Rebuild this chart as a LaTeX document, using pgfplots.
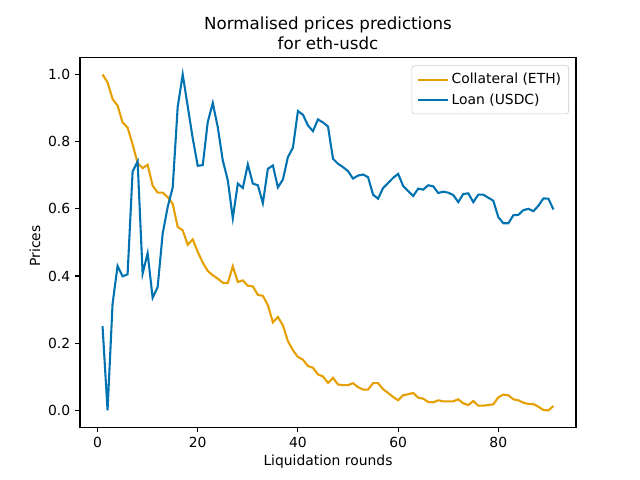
\documentclass[border=0pt]{standalone}
\usepackage{pgfplots}
\pgfplotsset{compat=1.18}
\usepackage{fontspec}
\setmainfont{DejaVu Sans}
\definecolor{mplorange}{RGB}{230,159,0}
\definecolor{mplblue}{RGB}{0,114,178}
\begin{document}
\begin{tikzpicture}
\path[use as bounding box] (0,0) rectangle (460.8pt,345.6pt);
\begin{axis}[
  at={(57.6pt,38.016pt)}, anchor=south west,
  scale only axis, width=357.12pt, height=266.112pt,
  xmin=-3.5, xmax=95.5, ymin=-0.05, ymax=1.05,
  xtick={0,20,40,60,80},
  ytick={0,0.2,0.4,0.6,0.8,1.0},
  yticklabel style={/pgf/number format/.cd, fixed, fixed zerofill, precision=1},
  /pgf/number format/assume math mode=true,
  tick pos=left, tick align=outside,
  major tick length=3.5pt,
  every tick/.style={black, line width=0.8pt},
  axis line style={line width=0.8pt},
  tick label style={font=\fontsize{10}{12}\selectfont},
  xlabel={Liquidation rounds},
  ylabel={Prices},
  label style={font=\fontsize{10}{12}\selectfont},
  xlabel style={at={(axis description cs:0.5,0)}, anchor=base, yshift=-27.9pt},
  ylabel style={at={(axis description cs:-0.0907,0.49)}, anchor=center},
  title={Normalised prices predictions\\for eth-usdc},
  title style={at={(axis description cs:0.5,1)}, anchor=south, align=center, inner sep=0pt, yshift=-0.5pt, font=\fontsize{12}{14.4}\selectfont},
  legend style={at={(0.986,0.979)}, anchor=north east, draw=black!20, rounded corners=2pt,
    fill=white, fill opacity=0.8, text opacity=1, font=\fontsize{10}{12}\selectfont,
    inner xsep=3.5pt, inner ysep=3.5pt, row sep=1.5pt,
    /tikz/every even column/.append style={column sep=7pt}},
  legend cell align=left,
  legend image code/.code={\draw[#1] (0pt,0pt) -- (21.6pt,0pt);},
]
\addplot[mplorange, line width=1.5pt] coordinates {
(1,1.0) (2,0.976) (3,0.927) (4,0.907) (5,0.857) (6,0.842) (7,0.792) (8,0.736) (9,0.721) (10,0.731)
(11,0.669) (12,0.648) (13,0.648) (14,0.635) (15,0.615) (16,0.546) (17,0.536) (18,0.493) (19,0.509) (20,0.472)
(21,0.440) (22,0.415) (23,0.402) (24,0.392) (25,0.380) (26,0.379) (27,0.429) (28,0.382) (29,0.387) (30,0.371)
(31,0.369) (32,0.344) (33,0.341) (34,0.313) (35,0.262) (36,0.278) (37,0.253) (38,0.206) (39,0.179) (40,0.159)
(41,0.151) (42,0.132) (43,0.127) (44,0.107) (45,0.101) (46,0.082) (47,0.097) (48,0.077) (49,0.075) (50,0.075)
(51,0.081) (52,0.069) (53,0.062) (54,0.062) (55,0.081) (56,0.081) (57,0.063) (58,0.052) (59,0.040) (60,0.030)
(61,0.045) (62,0.048) (63,0.052) (64,0.038) (65,0.035) (66,0.025) (67,0.024) (68,0.030) (69,0.027) (70,0.027)
(71,0.027) (72,0.033) (73,0.021) (74,0.016) (75,0.028) (76,0.014) (77,0.014) (78,0.016) (79,0.018) (80,0.039)
(81,0.047) (82,0.045) (83,0.033) (84,0.030) (85,0.023) (86,0.019) (87,0.019) (88,0.011) (89,0.001) (90,0.0)
(91,0.013)
};
\addlegendentry{Collateral (ETH)}
\addplot[mplblue, line width=1.5pt] coordinates {
(1,0.251) (2,0.0) (3,0.317) (4,0.430) (5,0.399) (6,0.405) (7,0.711) (8,0.741) (9,0.407) (10,0.468)
(11,0.335) (12,0.367) (13,0.526) (14,0.605) (15,0.663) (16,0.903) (17,1.0) (18,0.905) (19,0.81) (20,0.728)
(21,0.730) (22,0.858) (23,0.915) (24,0.843) (25,0.744) (26,0.685) (27,0.572) (28,0.675) (29,0.662) (30,0.732)
(31,0.675) (32,0.670) (33,0.617) (34,0.719) (35,0.729) (36,0.664) (37,0.687) (38,0.754) (39,0.782) (40,0.891)
(41,0.880) (42,0.848) (43,0.831) (44,0.866) (45,0.857) (46,0.845) (47,0.749) (48,0.734) (49,0.724) (50,0.712)
(51,0.690) (52,0.699) (53,0.702) (54,0.694) (55,0.642) (56,0.630) (57,0.662) (58,0.677) (59,0.692) (60,0.704)
(61,0.668) (62,0.653) (63,0.638) (64,0.660) (65,0.657) (66,0.670) (67,0.667) (68,0.647) (69,0.651) (70,0.648)
(71,0.641) (72,0.620) (73,0.644) (74,0.646) (75,0.620) (76,0.642) (77,0.642) (78,0.633) (79,0.624) (80,0.575)
(81,0.557) (82,0.557) (83,0.581) (84,0.582) (85,0.596) (86,0.600) (87,0.593) (88,0.609) (89,0.631) (90,0.630)
(91,0.598)
};
\addlegendentry{Loan (USDC)}
\end{axis}
\end{tikzpicture}
\end{document}
